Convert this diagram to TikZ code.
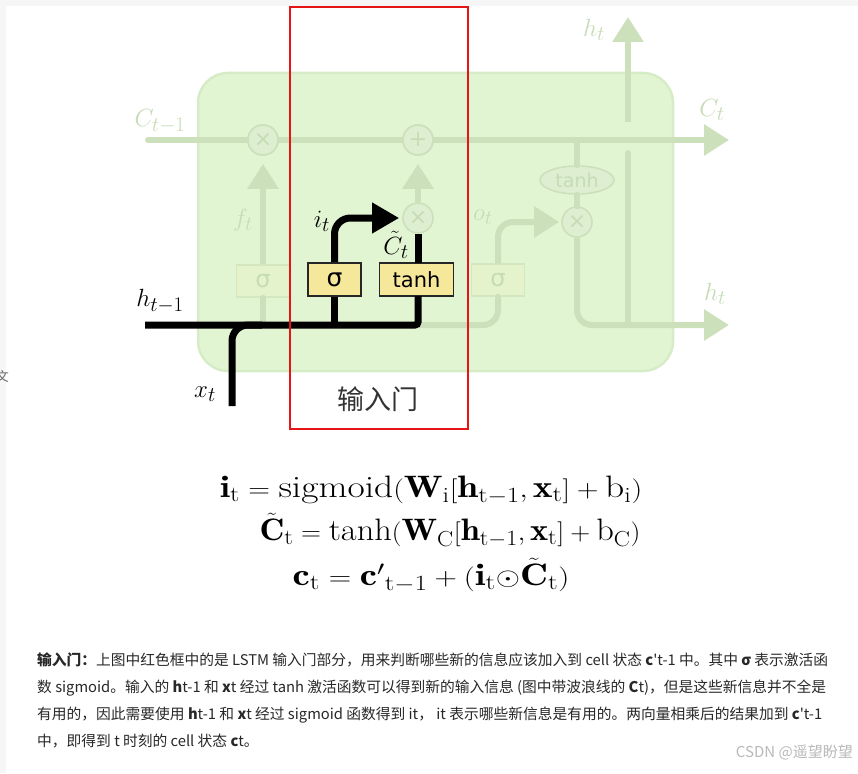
\documentclass[tikz,border=0pt]{standalone}
\usepackage{fontspec}
\usepackage{graphicx}
\usetikzlibrary{arrows.meta,shapes.geometric}
\newfontfamily\cjk{Noto Sans CJK SC}
\newfontfamily\dejavu{DejaVu Sans}
\definecolor{cellfill}{RGB}{226,245,211}
\definecolor{cellborder}{RGB}{214,236,198}
\definecolor{fadeline}{RGB}{204,224,188}
\definecolor{fadecirc}{RGB}{221,239,208}
\definecolor{fadetext}{RGB}{198,220,182}
\definecolor{fadebox}{RGB}{229,243,204}
\definecolor{fadeboxline}{RGB}{212,231,192}
\definecolor{gateyellow}{RGB}{246,232,155}
\definecolor{pagegrey}{RGB}{246,246,247}
\definecolor{redframe}{RGB}{230,20,20}
\definecolor{bodytext}{RGB}{40,40,40}
\definecolor{marktext}{RGB}{185,185,185}
\newcommand{\eqwide}[2]{\scalebox{#1}[1]{#2}}
\begin{document}
\begin{tikzpicture}[x=1pt,y=-1pt,
  fline/.style={line width=6pt,draw=fadeline,line cap=round},
  farrow/.style={-{Triangle[length=25pt,width=30pt]}},
  bline/.style={line width=7pt,draw=black},
  barrow/.style={-{Triangle[length=27pt,width=29pt]}},
  fcirc/.style={circle,minimum size=30pt,inner sep=0pt,fill=fadecirc,draw=fadeline,line width=1.6pt,text=fadetext,font=\dejavu\fontsize{22}{22}\selectfont},
  fbox/.style={rectangle,minimum width=53pt,minimum height=32pt,inner sep=0pt,fill=fadebox,draw=fadeboxline,line width=1.5pt,text=fadetext,font=\dejavu\fontsize{24}{24}\selectfont},
  gbox/.style={rectangle,minimum height=33pt,inner sep=0pt,fill=gateyellow,draw=black!85,line width=1.6pt,text=black,font=\dejavu\fontsize{21}{21}\selectfont},
  flabel/.style={text=fadetext,inner sep=0pt,font=\fontsize{28}{30}\selectfont},
  blabel/.style={text=black,inner sep=0pt,font=\fontsize{28}{30}\selectfont},
  eqn/.style={anchor=base,inner sep=0pt,font=\fontsize{31}{36}\selectfont},
  para/.style={anchor=west,inner sep=0pt,text=bodytext,font=\cjk\fontsize{14.75}{18}\selectfont}]
\useasboundingbox (0,0) rectangle (858,773);
\fill[white] (0,0) rectangle (858,773);
\fill[pagegrey] (0,0) rectangle (858,6);
\fill[pagegrey] (0,0) rectangle (6,773);
\node[anchor=east,inner sep=0pt,text=black!60,font=\cjk\fontsize{13}{13}\selectfont] (wen) at (9,376) {文};

% cell
\draw[fill=cellfill,draw=cellborder,line width=2.5pt,rounded corners=30pt] (198,73) rectangle (673,371);

% faded nodes
\node[fcirc] (mulf) at (263,140) {×};
\node[fcirc] (plus) at (418,140) {+};
\node[fcirc] (muli) at (418,218) {×};
\node[fcirc] (mulo) at (577,222) {×};
\node[ellipse,minimum width=74pt,minimum height=28pt,inner sep=0pt,fill=fadecirc,draw=fadeline,line width=1.6pt,text=fadetext,font=\dejavu\fontsize{19}{19}\selectfont] (tanhe) at (577,180) {tanh};
\node[fbox] (sigf) at (263,281) {σ};
\node[fbox] (sigo) at (498,280) {σ};

% faded coordinates
\coordinate (cin) at (148,140);
\coordinate (cout) at (729,140);
\coordinate (hout) at (729,325);
\coordinate (htop) at (628,17);
\coordinate (vlow) at (628,325);
\coordinate (vgapa) at (628,153);
\coordinate (vgapb) at (628,122);
\coordinate (hleft) at (232,325);
\coordinate (fbase) at (263,325);
\coordinate (ctop) at (577,140);

% faded connectors
\draw[fline] (cin) -- (mulf.west);
\draw[fline] (mulf.east) -- (plus.west);
\draw[fline,line cap=butt,farrow] (plus.east) -- (cout);
\draw[fline,rounded corners=15pt] (hleft) -| (sigo.south);
\draw[fline] (fbase) -- (sigf.south);
\draw[fline,line cap=butt,farrow,shorten >=8pt] (sigf.north) -- (mulf.south);
\draw[fline,line cap=butt,farrow,shorten >=8pt] (muli.north) -- (plus.south);
\draw[fline,line cap=butt,rounded corners=15pt,farrow,shorten >=2pt] (sigo.north) |- (mulo.west);
\draw[fline] (mulo.north) -- (tanhe.south);
\draw[fline] (tanhe.north) -- (ctop);
\draw[fline,line cap=butt,rounded corners=15pt,farrow] (mulo.south) |- (hout);
\draw[fline] (vlow) -- (vgapa);
\draw[fline,line cap=butt,farrow] (vgapb) -- (htop);
\node[fcirc] at (mulf) {×};
\node[fcirc] at (plus) {+};

% faded labels
\node[flabel] (lct1) at (160,121) {$C_{t-1}$};
\node[flabel] (lct) at (712,110) {$C_t$};
\node[flabel] (lhtop) at (594,30) {$h_t$};
\node[flabel] (lhr) at (715,294) {$h_t$};
\node[flabel] (lft) at (243,220) {$f_t$};
\node[flabel] (lot) at (483,217) {$o_t$};

% input gate (black)
\node[gbox,minimum width=53pt,font=\dejavu\fontsize{25}{25}\selectfont] (sigi) at (334.5,279.5) {σ};
\node[gbox,minimum width=74pt] (tanhb) at (416.5,279.5) {tanh};
\coordinate (hstart) at (145,325);
\coordinate (xstart) at (232,406);
\coordinate (ibase) at (334.5,325);
\coordinate (xjoin) at (262,325);
\coordinate (tbot) at (418,296);
\coordinate (ttop) at (418,263);
\draw[bline,rounded corners=3pt] (hstart) -| (tbot);
\draw[bline,rounded corners=16pt] (xstart) |- (xjoin);
\draw[bline] (ibase) -- (sigi.south);
\draw[bline,rounded corners=16pt,barrow,shorten >=3pt] (sigi.north) |- (muli.west);
\draw[bline] (ttop) -- (muli.south);

% black labels
\node[blabel] (lht1) at (160,301) {$h_{t-1}$};
\node[blabel] (lit) at (322,221) {$i_t$};
\node[blabel] (lctil) at (396,245) {$\tilde{C}_t$};
\node[blabel] (lxt) at (205,394) {$x_t$};

% red frame
\draw[redframe,line width=1.8pt] (290,7) rectangle (468,429);
\node[inner sep=0pt,text=black!80,font=\cjk\fontsize{27}{27}\selectfont] (gate) at (378,399) {输入门};

% equations
\node[eqn] (eq1) at (431,497) {\eqwide{1.21}{$\mathbf{i}_{\mathrm{t}} = \mathrm{sigmoid}(\mathbf{W}_{\mathrm{i}}[\mathbf{h}_{\mathrm{t-1}},\mathbf{x}_{\mathrm{t}}] + \mathrm{b}_{\mathrm{i}})$}};
\node[eqn] (eq2) at (450,540) {\eqwide{1.11}{$\tilde{\mathbf{C}}_{\mathrm{t}} = \tanh(\mathbf{W}_{\mathrm{C}}[\mathbf{h}_{\mathrm{t-1}},\mathbf{x}_{\mathrm{t}}] + \mathrm{b}_{\mathrm{C}})$}};
\node[eqn] (eq3) at (431,585) {\eqwide{1.25}{$\mathbf{c}_{\mathrm{t}} = {\mathbf{c}'}_{\mathrm{t-1}} + (\mathbf{i}_{\mathrm{t}}{\odot}\tilde{\mathbf{C}}_{\mathrm{t}})$}};

% paragraph
\node[para] (p1) at (37,660) {{\bfseries 输入门：}上图中红色框中的是 LSTM 输入门部分，用来判断哪些新的信息应该加入到 cell 状态 {\bfseries c}'t-1 中。其中 {\bfseries σ} 表示激活函};
\node[para] (p2) at (37,688) {数 sigmoid。输入的 {\bfseries h}t-1 和 {\bfseries x}t 经过 tanh 激活函数可以得到新的输入信息 (图中带波浪线的 {\bfseries C}t)，但是这些新信息并不全是};
\node[para] (p3) at (37,715) {有用的，因此需要使用 {\bfseries h}t-1 和 {\bfseries x}t 经过 sigmoid 函数得到 it， it 表示哪些新信息是有用的。两向量相乘后的结果加到 {\bfseries c}'t-1};
\node[para] (p4) at (37,741) {中，即得到 t 时刻的 cell 状态 {\bfseries c}t。};

% watermark
\node[anchor=east,inner sep=0pt,text=marktext,font=\cjk\fontsize{15}{18}\selectfont] (mark) at (853,752) {CSDN @遥望盼望};
\end{tikzpicture}
\end{document}
